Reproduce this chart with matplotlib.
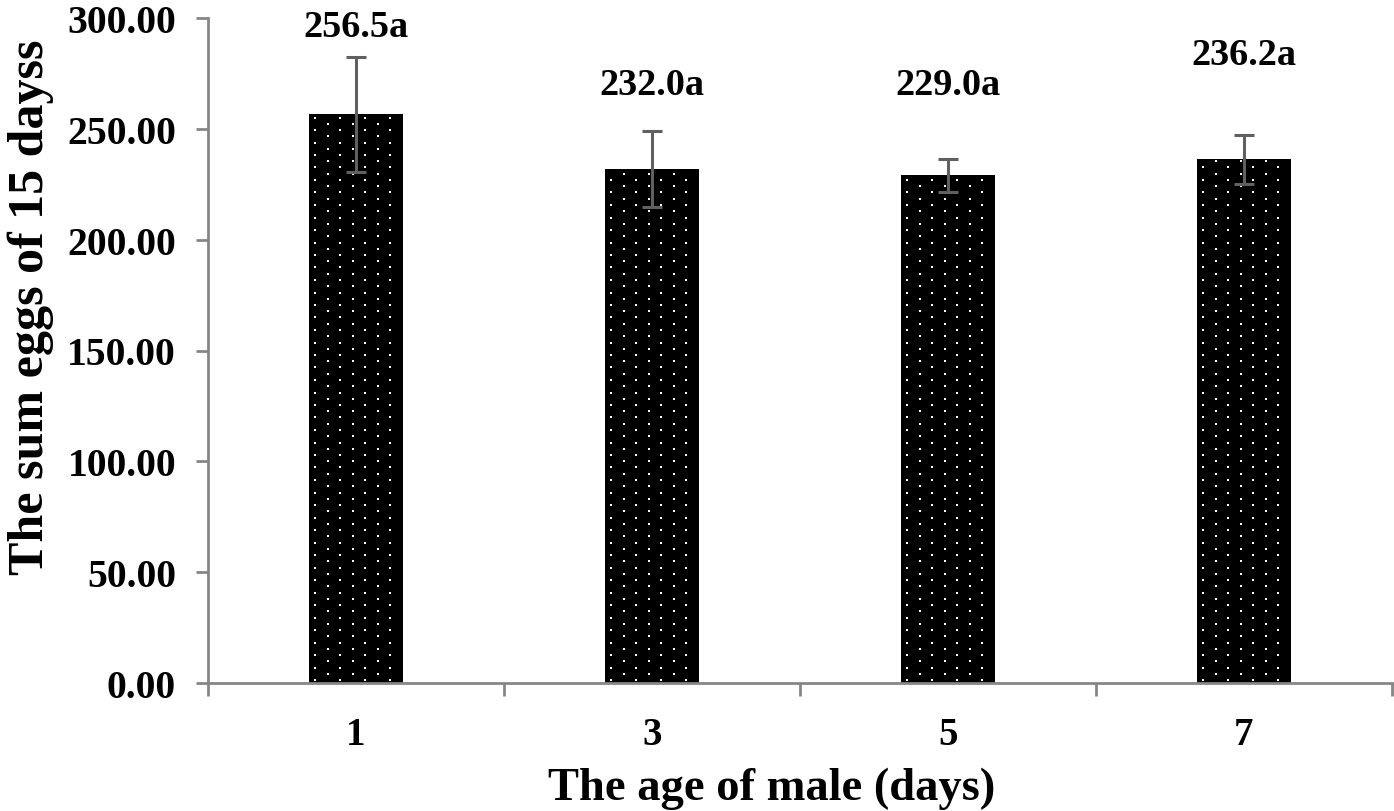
import numpy as np
import matplotlib
matplotlib.use("Agg")
import matplotlib.pyplot as plt

plt.rcParams['font.family'] = ['Liberation Serif', 'DejaVu Serif']
plt.rcParams['font.weight'] = 'bold'

# Dados
ages = ["1", "3", "5", "7"]
eggs = [256.5, 232.0, 229.0, 236.2]
err = [25.8, 17.1, 7.6, 11.0]
labels = ["256.5a", "232.0a", "229.0a", "236.2a"]
label_y = [296.0, 270.0, 270.0, 283.5]

W, H, DPI = 13.94, 8.12, 100
fig = plt.figure(figsize=(W, H), dpi=DPI)
ax = fig.add_axes([208 / 1394, 128 / 812, 1184 / 1394, 665 / 812])

x = np.arange(1, len(ages) + 1)
bars = ax.bar(x, eggs, width=0.315, color='black', zorder=2)
ax.errorbar(x, eggs, yerr=err, fmt='none', ecolor='#606060', elinewidth=2.2,
            capsize=7.5, capthick=2.2, zorder=4)

for xi, txt, yy in zip(x, labels, label_y):
    ax.text(xi, yy, txt, ha='center', va='center', fontsize=27.5, fontweight='bold')

ax.set_xlim(0.5, len(ages) + 0.5)
ax.set_ylim(0, 300)
ax.set_yticks(np.arange(0, 301, 50))
ax.set_yticklabels([f"{v:.2f}" for v in np.arange(0, 301, 50)])

# ticks nas fronteiras, rótulos no centro
ax.set_xticks(np.arange(0.5, len(ages) + 1, 1.0))
ax.set_xticklabels([])
ax.set_xticks(x, minor=True)
ax.set_xticklabels(ages, minor=True)
ax.tick_params(axis='x', which='minor', length=0, pad=24, labelsize=28)
ax.tick_params(axis='x', which='major', length=9, width=2, color='#868686', direction='out')
ax.tick_params(axis='y', length=9, width=2, color='#868686', direction='out', labelsize=28.5, pad=14)

for s in ['top', 'right']:
    ax.spines[s].set_visible(False)
for s in ['left', 'bottom']:
    ax.spines[s].set_color('#868686')
    ax.spines[s].set_linewidth(2)

ax.set_xlabel("The age of male (days)", fontsize=33.5, fontweight='bold')
ax.xaxis.set_label_coords(564 / 1184, -0.126)
ax.set_ylabel("The sum eggs of 15 dayss", fontsize=36, fontweight='bold')
ax.yaxis.set_label_coords(-154 / 1184, 0.567)

# Padrão de pontos brancos dentro das barras
fig.canvas.draw()
inv = ax.transData.inverted()
for b in bars:
    bb = b.get_window_extent()
    pts = []
    row = 0
    yy = bb.y0 + 3
    while yy < bb.y1:
        start = bb.x0 + 6 + (12.5 if row % 2 else 0)
        xx = start
        while xx < bb.x1:
            pts.append((xx, yy))
            xx += 25
        yy += 6.25
        row += 1
    pts = inv.transform(np.array(pts))
    sc = ax.scatter(pts[:, 0], pts[:, 1], s=4.5, marker='s', color='white',
                    linewidths=0, zorder=3)
    sc.set_clip_path(b)

fig.savefig("out.png", dpi=DPI)
